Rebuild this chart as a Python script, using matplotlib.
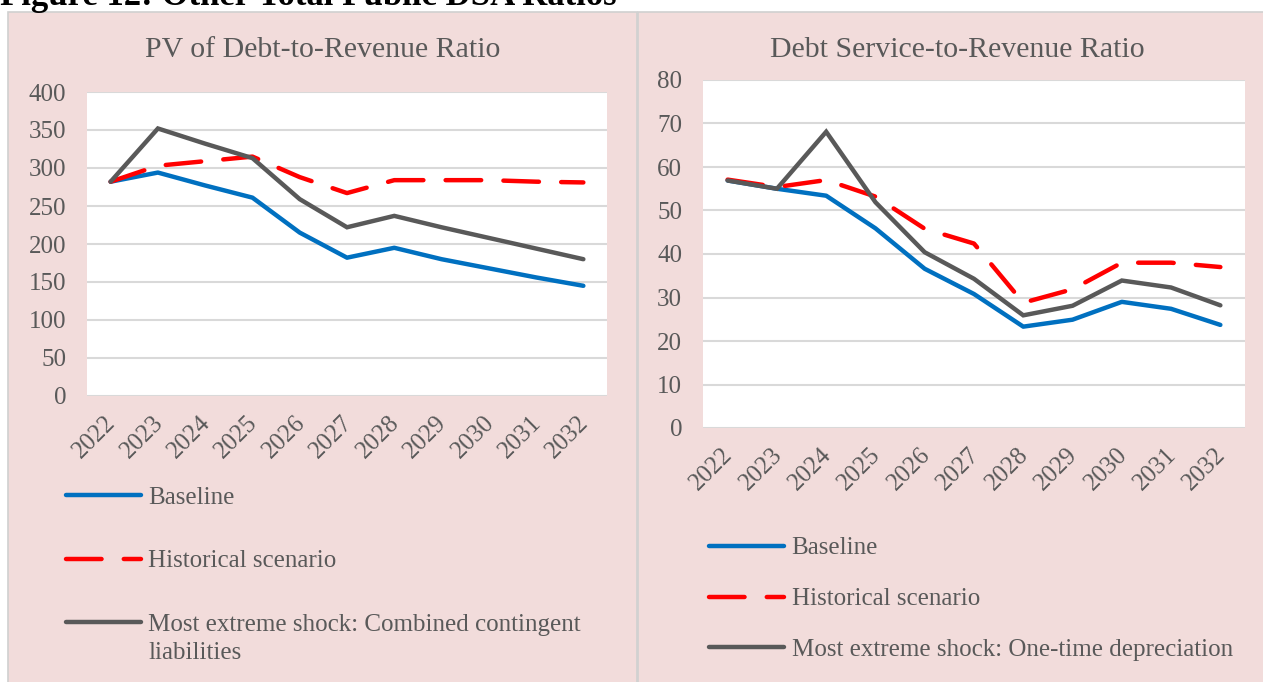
import matplotlib
matplotlib.use("Agg")
import matplotlib.pyplot as plt
from matplotlib.patches import Rectangle
from matplotlib.transforms import ScaledTranslation

years = ["2022", "2023", "2024", "2025", "2026", "2027", "2028", "2029", "2030", "2031", "2032"]

# PV of Debt-to-Revenue Ratio
pv_baseline = [282, 294, 277, 261, 215, 182, 195, 180, 168, 156, 145]
pv_historical = [282, 303, 309, 315, 288, 267, 284, 284, 284, 282, 281]
pv_extreme = [282, 352, 332, 313, 259, 222, 237, 222, 208, 194, 180]

# Debt Service-to-Revenue Ratio
ds_baseline = [56.9, 55.0, 53.4, 45.9, 36.6, 30.8, 23.3, 24.9, 29.0, 27.4, 23.7]
ds_historical = [57.1, 55.4, 57.0, 53.2, 45.8, 42.4, 28.8, 31.9, 38.0, 38.0, 37.0]
ds_extreme = [56.9, 55.0, 68.1, 51.9, 40.4, 34.3, 25.9, 28.1, 33.9, 32.3, 28.2]

labels_left = ["Baseline", "Historical scenario", "Most extreme shock: Combined contingent"]
label_left_cont = "liabilities"
labels_right = ["Baseline", "Historical scenario", "Most extreme shock: One-time depreciation"]

W, H = 1263, 682
plt.rcParams['font.family'] = ['Liberation Serif', 'DejaVu Serif']
TXT = "#595959"
PINK = "#F2DCDB"
BLUE = "#0070C0"
RED = "#FF0000"
GRAY = "#595959"
GRID = "#D9D9D9"

fig = plt.figure(figsize=(W / 100, H / 100), dpi=100)
fig.patch.set_facecolor("white")

def fx(x):
    return x / W

def fy(y):
    return 1 - y / H

# panel backgrounds
fig.patches.append(Rectangle((fx(8), fy(690)), fx(629), 678 / H, transform=fig.transFigure,
                             facecolor=PINK, edgecolor="#D0D0D0", lw=1.2, zorder=-5))
fig.patches.append(Rectangle((fx(638), fy(690)), fx(630), 678 / H, transform=fig.transFigure,
                             facecolor=PINK, edgecolor="#D0D0D0", lw=1.2, zorder=-5))

fig.text(0.0, fy(5), "Figure 12: Other Total Public DSA Ratios", fontsize=25, fontweight="bold",
         color="black", ha="left", va="baseline")

def make_ax(rect_px, ymax, ystep, series, labels, title, title_x, leg_anchor, leg_spacing):
    l, t, r, b = rect_px
    ax = fig.add_axes([fx(l), fy(b), fx(r - l), (b - t) / H])
    ax.set_zorder(2)
    ax.set_facecolor("white")
    x = list(range(len(years)))
    b_, h_, e_ = series
    ax.plot(x, b_, color=BLUE, lw=3.2, solid_capstyle="round", solid_joinstyle="round",
            label=labels[0], zorder=3)
    ax.plot(x, h_, color=RED, lw=3.2, linestyle=(0, (8, 5)), dash_capstyle="round",
            label=labels[1], zorder=3)
    ax.plot(x, e_, color=GRAY, lw=3.2, solid_capstyle="round", solid_joinstyle="miter",
            label=labels[2], zorder=3)
    ax.set_xlim(-0.5, len(years) - 0.5)
    ax.set_ylim(0, ymax)
    ax.set_yticks(range(0, ymax + 1, ystep))
    ax.set_xticks(x)
    ax.set_xticklabels(years, rotation=45, ha="right", rotation_mode="anchor")
    ax.tick_params(axis="both", length=0, labelsize=18, colors=TXT)
    ax.tick_params(axis="y", pad=15)
    ax.tick_params(axis="x", pad=10)
    off = ScaledTranslation(-6 / 100, -2 / 100, fig.dpi_scale_trans)
    for lab in ax.get_xticklabels():
        lab.set_transform(lab.get_transform() + off)
    for s in ax.spines.values():
        s.set_visible(False)
    ax.yaxis.grid(True, color=GRID, lw=1.5)
    ax.set_axisbelow(True)
    fig.text(fx(title_x), fy(50), title, fontsize=21.5, color=TXT, ha="center", va="center")
    leg = ax.legend(loc="upper left", bbox_to_anchor=(fx(leg_anchor[0]), fy(leg_anchor[1])),
                    bbox_transform=fig.transFigure, frameon=False, fontsize=18,
                    handlelength=3.0, handletextpad=0.3, labelspacing=leg_spacing,
                    borderpad=0, borderaxespad=0)
    for txt in leg.get_texts():
        txt.set_color(TXT)
    return ax, leg

axL, legL = make_ax((87, 92, 607, 396), 400, 50, (pv_baseline, pv_historical, pv_extreme), labels_left,
                    "PV of Debt-to-Revenue Ratio", 323, (66, 486), 1.65)
axR, legR = make_ax((703, 80, 1245, 428), 80, 10, (ds_baseline, ds_historical, ds_extreme), labels_right,
                    "Debt Service-to-Revenue Ratio", 957, (709, 537), 1.13)

# continuation line of the wrapped legend label
fig.canvas.draw()
bb = legL.get_texts()[2].get_window_extent()
fig.text(bb.x0 / W, (bb.y0 - 28) / H, label_left_cont, fontsize=18, color=TXT,
         ha="left", va="bottom")

fig.savefig("out.png", dpi=100, facecolor=fig.get_facecolor())
